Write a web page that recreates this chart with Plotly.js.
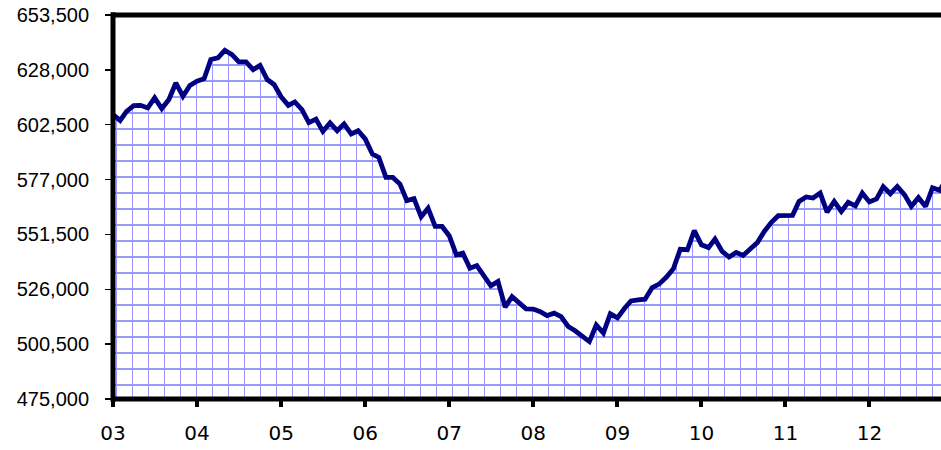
<!DOCTYPE html>
<html>
<head>
<meta charset="utf-8">
<script src="https://cdn.plot.ly/plotly-3.0.1.min.js"></script>
<style>html,body{margin:0;padding:0;background:#fff;}#chart{width:941px;height:450px;}</style>
</head>
<body>
<div id="chart"></div>
<script>
// Monthly series starting January 2003
const startYear = 2003;
const startMonth = 0;
const values = [
  607200, 604500, 608700, 611400, 611500, 610300, 615000, 610000, 614200, 621900, 615700, 620700,
  622700, 623900, 632800, 633600, 637100, 635100, 631700, 631700, 628100, 630100, 623500, 621200,
  615400, 611500, 613100, 609500, 603500, 605100, 599400, 603300, 599700, 602900, 598200, 599700,
  595900, 588900, 587300, 578000, 578000, 574900, 567200, 568100, 559700, 563700, 555200, 555200,
  550900, 542000, 542800, 535800, 537000, 532300, 527600, 529600, 517700, 522600, 519500, 516900,
  516800, 515600, 513800, 514900, 513300, 508700, 506700, 504300, 501700, 509400, 505600, 514600,
  512700, 517200, 520600, 521100, 521400, 526800, 528400, 531600, 535500, 544600, 544400, 553300,
  546700, 545400, 549300, 543600, 541000, 543100, 541700, 544700, 547700, 552900, 557100, 560200,
  560200, 560400, 566800, 568900, 568400, 570700, 561900, 566800, 562200, 566400, 564800, 570700,
  566600, 568000, 573700, 570400, 573800, 570000, 564600, 568600, 564500, 573200, 572000, 576900
];
const yTickStart = 475000;
const yTickStep = 25500;
const yMax = 653500;
const xRangeStart = '2003-01-01';
const xRangeEnd = '2012-11-07';

const dates = values.map((v, i) => {
  const d = new Date(Date.UTC(startYear, startMonth + i, 1));
  return d.toISOString().slice(0, 10);
});

// Hatch grid of the filled area (drawn as minor gridlines, masked above the line)
const gridColor = '#9999ff';
const DAY = 86400000;

const topEdge = {
  x: [xRangeStart, '2013-01-01'],
  y: [yMax, yMax],
  type: 'scatter',
  mode: 'lines',
  line: {width: 0, color: 'white'},
  hoverinfo: 'skip'
};

const trace = {
  x: dates,
  y: values,
  type: 'scatter',
  mode: 'lines',
  line: {color: '#000080', width: 4.8},
  fill: 'tonexty',
  fillcolor: 'white',
  hoverinfo: 'skip'
};

const layout = {
  width: 941,
  height: 450,
  margin: {l: 113, r: 0, t: 15, b: 51},
  paper_bgcolor: 'white',
  plot_bgcolor: 'white',
  showlegend: false,
  xaxis: {
    type: 'date',
    range: [xRangeStart, xRangeEnd],
    tick0: '2003-01-01',
    dtick: 'M12',
    tickformat: '%y',
    ticks: 'outside',
    ticklen: 7,
    tickwidth: 4,
    tickcolor: 'black',
    showgrid: false,
    zeroline: false,
    showline: false,
    ticklabelstandoff: 9,
    tickfont: {family: 'DejaVu Sans', size: 20, color: 'black'},
    minor: {tick0: '2003-01-17', dtick: 69.53 * DAY, showgrid: true, gridcolor: gridColor, gridwidth: 1.3, ticks: ''}
  },
  yaxis: {
    range: [yTickStart, yMax],
    tick0: yTickStart,
    dtick: yTickStep,
    tickformat: ',d',
    ticks: 'outside',
    ticklen: 7,
    tickwidth: 1.5,
    tickcolor: 'black',
    showgrid: false,
    zeroline: false,
    showline: false,
    ticklabelstandoff: 12,
    tickfont: {family: 'Liberation Sans, Arial', size: 20, color: 'black'},
    minor: {tick0: 481500, dtick: 7437.5, showgrid: true, gridcolor: gridColor, gridwidth: 1.3, ticks: ''}
  },
  shapes: [
    {type: 'line', xref: 'paper', yref: 'paper', x0: 0, x1: 1, y0: 1, y1: 1, layer: 'above', line: {color: 'black', width: 5}},
    {type: 'line', xref: 'paper', yref: 'paper', x0: 0, x1: 1, y0: 0, y1: 0, layer: 'above', line: {color: 'black', width: 5}},
    {type: 'line', xref: 'paper', yref: 'paper', x0: 0, x1: 0, y0: -0.007, y1: 1.007, layer: 'above', line: {color: 'black', width: 5}}
  ]
};

Plotly.newPlot('chart', [topEdge, trace], layout, {displayModeBar: false, staticPlot: true});
</script>
</body>
</html>
